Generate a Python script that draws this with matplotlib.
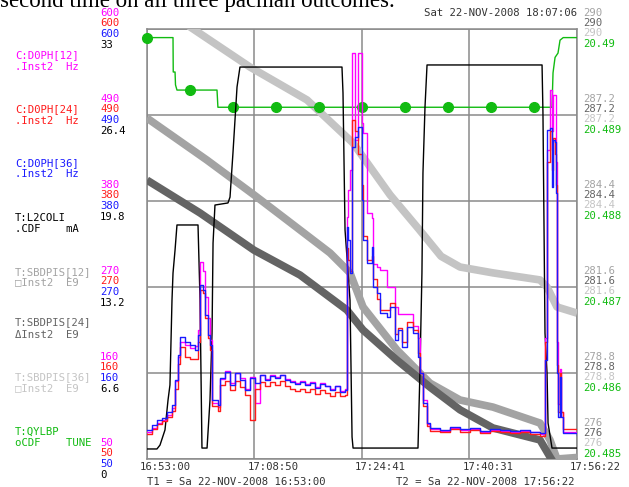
import matplotlib
matplotlib.use("Agg")
import matplotlib.pyplot as plt

# ---------------- data ----------------
x_tick_seconds = [0, 950, 1901, 2851, 3802]
x_tick_labels = ["16:53:00", "17:08:50", "17:24:41", "17:40:31", "17:56:22"]

hz_ticks = ["600", "490", "380", "270", "160", "50"]
ma_ticks = ["33", "26.4", "19.8", "13.2", "6.6", "0"]
e9_ticks = ["290", "287.2", "284.4", "281.6", "278.8", "276"]
tune_ticks = ["20.49", "20.489", "20.488", "20.487", "20.486", "20.485"]

# C:D0PH[12], [24], [36]  (Hz) - shared sample times (s after 16:53:00)
t_hz = [0, 44, 88, 133, 177, 221,
        248, 274, 292, 336, 380, 424, 451,
        469, 495, 513, 539, 557, 575, 628,
        645, 690, 734, 778, 822, 866, 911, 955, 999, 1043,
        1088, 1132, 1176, 1220, 1264, 1309, 1353, 1397, 1441, 1485,
        1530, 1574, 1618, 1662, 1706, 1751,
        1768, 1777, 1795, 1813, 1839, 1866,
        1901, 1910, 1945, 1989, 1998, 2033, 2060, 2122, 2148, 2193,
        2219, 2255, 2299, 2352, 2396, 2414, 2440, 2476, 2502,
        2591, 2679, 2768, 2856, 2944, 3033, 3121, 3210, 3298, 3387, 3475,
        3519, 3537, 3563, 3581, 3590, 3608, 3616, 3625, 3634, 3652, 3660, 3678, 3802]

d0ph36_blue = [87, 94, 100, 102, 110, 119,
               151, 183, 206, 200, 196, 189, 209,
               273, 266, 234, 209, 196, 126, 119,
               154, 161, 145, 160, 151, 138, 154, 147, 157, 151,
               156, 154, 157, 151, 149, 146, 149, 145, 147, 141,
               146, 143, 138, 143, 136, 138,
               347, 330, 288, 449, 462, 475,
               381, 330, 301, 321, 270, 262, 237, 232, 244, 202,
               215, 193, 219, 211, 181, 160, 122, 96, 90,
               87, 91, 88, 90, 86, 88, 87, 86, 87, 85, 83,
               177, 471, 473, 398, 458, 456, 390, 160, 104, 155, 104, 83, 81]

d0ph24_red = [82, 88, 95, 98, 104, 112,
              140, 172, 193, 180, 178, 178, 200,
              266, 262, 230, 205, 190, 118, 112,
              145, 150, 138, 150, 142, 132, 100, 140, 148, 143,
              148, 145, 150, 143, 140, 137, 140, 136, 139, 133,
              138, 135, 131, 136, 130, 132,
              320, 305, 290, 483, 470, 440,
              400, 335, 305, 310, 280, 255, 240, 240, 250, 210,
              218, 200, 225, 215, 185, 160, 118, 92, 86,
              84, 88, 85, 87, 83, 86, 84, 83, 85, 82, 80,
              200, 430, 470, 420, 460, 440, 400, 170, 110, 160, 110, 88, 86]

d0ph12_magenta = [84, 90, 96, 100, 106, 115,
                  150, 180, 200, 196, 192, 195, 215,
                  302, 290, 257, 230, 202, 122, 116,
                  152, 163, 147, 160, 153, 140, 155, 122, 158, 152,
                  158, 155, 158, 152, 150, 147, 150, 146, 148, 142,
                  147, 144, 140, 144, 137, 139,
                  360, 394, 420, 569, 458, 569,
                  480, 467, 365, 358, 300, 296, 292, 270, 270, 245,
                  236, 236, 236, 220, 205, 160, 125, 95, 88,
                  86, 90, 87, 89, 85, 87, 86, 85, 86, 84, 82,
                  205, 445, 522, 470, 515, 515, 430, 200, 120, 165, 110, 85, 84]

# T:L2COLI (mA)
t_l2coli = [0, 88, 115, 159, 186, 203, 221, 230, 248, 265,
            451, 469, 486, 531, 557, 575, 584, 601, 716, 734,
            760, 796, 822, 1724, 1733, 1751, 1795, 1813, 1822, 2396,
            2413, 2431, 2440, 2458, 2476, 3493, 3501, 3519, 3537, 3546,
            3581, 3802]
l2coli_ma = [0.77, 0.77, 1.07, 2.23, 4.53, 5.68, 12.2, 14.27, 16.04, 17.96,
             17.96, 12.2, 0.84, 0.84, 4.53, 9.67, 16.58, 19.49, 19.65, 20.1,
             23.48, 28.55, 30.08, 30.08, 28.09, 17.57, 12.2, 1.69, 0.84, 0.84,
             6.6, 14.27, 21.95, 27.01, 30.24, 30.24, 26.55, 9.67, 6.6, 2.76,
             0.84, 0.84]

# T:SBDPIS[12], [24], [36] (E9)
t_sbd12 = [0, 531, 946, 1238, 1618, 1795, 1910, 2210, 2502, 2768, 3059, 3475, 3563, 3625, 3802]
sbd12 = [287.1, 285.73, 284.6, 283.78, 282.71, 282.06, 280.95, 279.55, 278.47, 277.92,
         277.69, 277.17, 276.62, 276.0, 276.05]
t_sbd24 = [0, 469, 946, 1353, 1768, 1910, 2210, 2502, 2768, 3059, 3475, 3563, 3608]
sbd24 = [285.08, 284.01, 282.8, 281.99, 280.85, 280.2, 279.22, 278.34, 277.6, 277.01,
         276.62, 276.07, 275.8]
t_sbd36 = [300, 380, 911, 1415, 1821, 2149, 2400, 2600, 2768, 3059, 3475, 3537, 3625, 3802]
sbd36 = [290.4, 290.07, 288.76, 287.69, 286.29, 284.6, 283.5, 282.6, 282.25, 282.06, 281.83,
         281.6, 280.95, 280.75]

# T:QYLBP (TUNE)
t_qylbp = [0, 230, 232, 248, 252, 265, 619, 627, 3581, 3590, 3608, 3634, 3652, 3680, 3802]
qylbp = [20.4899, 20.4899, 20.4895, 20.4895, 20.48935, 20.48929, 20.48929, 20.48909,
         20.48909, 20.48949, 20.48967, 20.48972, 20.48987, 20.4899, 20.4899]
t_qylbp_markers = [0, 380, 760, 1140, 1520, 1900, 2280, 2660, 3040, 3420]
qylbp_markers = [20.4899, 20.48929, 20.48909, 20.48909, 20.48909, 20.48909,
                 20.48909, 20.48909, 20.48909, 20.48909]

# ---------------- style ----------------
W, H = 629, 487
MONO = "DejaVu Sans Mono"
FS = 7.7
C_MAG, C_RED, C_BLUE = "#ff00ff", "#ff1a1a", "#1a1aff"
C_G12, C_G24, C_G36 = "#a3a3a3", "#646464", "#c4c4c4"
C_GREEN = "#11bb11"
C_GRID = "#8a8a8a"

fig = plt.figure(figsize=(W / 100, H / 100), dpi=100)
L, T, R, B = 147, 29, 577, 459
rect = [L / W, 1 - B / H, (R - L) / W, (B - T) / H]

ax0 = fig.add_axes(rect)
ax0.set_xlim(0, 3802)
ax0.set_ylim(50, 600)
ax0.set_xticks(x_tick_seconds)
ax0.set_yticks([50, 160, 270, 380, 490, 600])
ax0.grid(True, color=C_GRID, lw=1.1)
ax0.tick_params(length=0, labelbottom=False, labelleft=False)
for s in ax0.spines.values():
    s.set_color(C_GRID)
    s.set_linewidth(1.1)


def twin(ylim):
    a = ax0.twinx()
    a.set_ylim(*ylim)
    a.set_xlim(0, 3802)
    a.set_yticks([])
    a.tick_params(length=0, labelright=False)
    for s in a.spines.values():
        s.set_visible(False)
    return a


ax_gray = twin((276, 290))
ax_gray.plot(t_sbd36, sbd36, color=C_G36, lw=5.5, solid_capstyle="butt")
ax_gray.plot(t_sbd12, sbd12, color=C_G12, lw=5.5, solid_capstyle="butt")
ax_gray.plot(t_sbd24, sbd24, color=C_G24, lw=5.5, solid_capstyle="butt")

ax_green = twin((20.485, 20.49))
ax_green.plot(t_qylbp, qylbp, color=C_GREEN, lw=1.0)
ax_green.plot(t_qylbp_markers, qylbp_markers, ls="none", marker="o",
              ms=7, color=C_GREEN, clip_on=False)

ax_black = twin((0, 33))
ax_black.plot(t_l2coli, l2coli_ma, color="black", lw=1.0)

ax_hz = twin((50, 600))
ax_hz.plot(t_hz, d0ph12_magenta, color=C_MAG, lw=1.0, drawstyle="steps-post")
ax_hz.plot(t_hz, d0ph24_red, color=C_RED, lw=1.0, drawstyle="steps-post")
ax_hz.plot(t_hz, d0ph36_blue, color=C_BLUE, lw=1.0, drawstyle="steps-post")


def ptext(x, y, s, color, ha="left", **kw):
    fig.text(x / W, 1 - y / H, s, color=color, ha=ha, va="center",
             family=MONO, fontsize=FS, **kw)


# left scale labels
for i in range(6):
    y0 = 13 + 86 * i
    ptext(100, y0, hz_ticks[i], C_MAG)
    ptext(100, y0 + 10.5, hz_ticks[i], C_RED)
    ptext(100, y0 + 21, hz_ticks[i], C_BLUE)
    ptext(100, y0 + 32, ma_ticks[i], "black")

# right scale labels
for i in range(6):
    y0 = 13 + 86 * i if i < 5 else 423
    ptext(583, y0, e9_ticks[i], C_G12)
    ptext(583, y0 + 10, e9_ticks[i], C_G24)
    ptext(583, y0 + 20, e9_ticks[i], C_G36)
    ptext(583, y0 + 31, tune_ticks[i], C_GREEN)

# series names
names = [
    (55, "C:D0PH[12]", C_MAG), (67, ".Inst2  Hz", C_MAG),
    (109, "C:D0PH[24]", C_RED), (121, ".Inst2  Hz", C_RED),
    (163, "C:D0PH[36]", C_BLUE), (174, ".Inst2  Hz", C_BLUE),
    (218, "T:L2COLI", "black"), (229, ".CDF    mA", "black"),
    (272, "T:SBDPIS[12]", C_G12), (282, "\u25a1Inst2  E9", C_G12),
    (322, "T:SBDPIS[24]", C_G24), (335, "\u0394Inst2  E9", C_G24),
    (377, "T:SBDPIS[36]", C_G36), (388, "\u25a1Inst2  E9", C_G36),
    (432, "T:QYLBP", C_GREEN), (443, "oCDF    TUNE", C_GREEN),
]
for y, s, c in names:
    ptext(15, y, s, c)

# time labels
for xs, lab in zip(x_tick_seconds, x_tick_labels):
    xp = L + xs / 3802 * (R - L)
    ptext(xp - 7, 467, lab, "#333333")

ptext(147, 482, "T1 = Sa 22-NOV-2008 16:53:00", "#333333")
ptext(575, 482, "T2 = Sa 22-NOV-2008 17:56:22", "#333333", ha="right")
ptext(577, 13, "Sat 22-NOV-2008 18:07:06", "#333333", ha="right")

# clipped document text above the chart
fig.text(0.0, 1 - 6.5 / H, "second time on all three pacman outcomes.",
         family="Liberation Serif", fontsize=16.5, color="black",
         ha="left", va="baseline")

fig.savefig("out.png", dpi=100)
